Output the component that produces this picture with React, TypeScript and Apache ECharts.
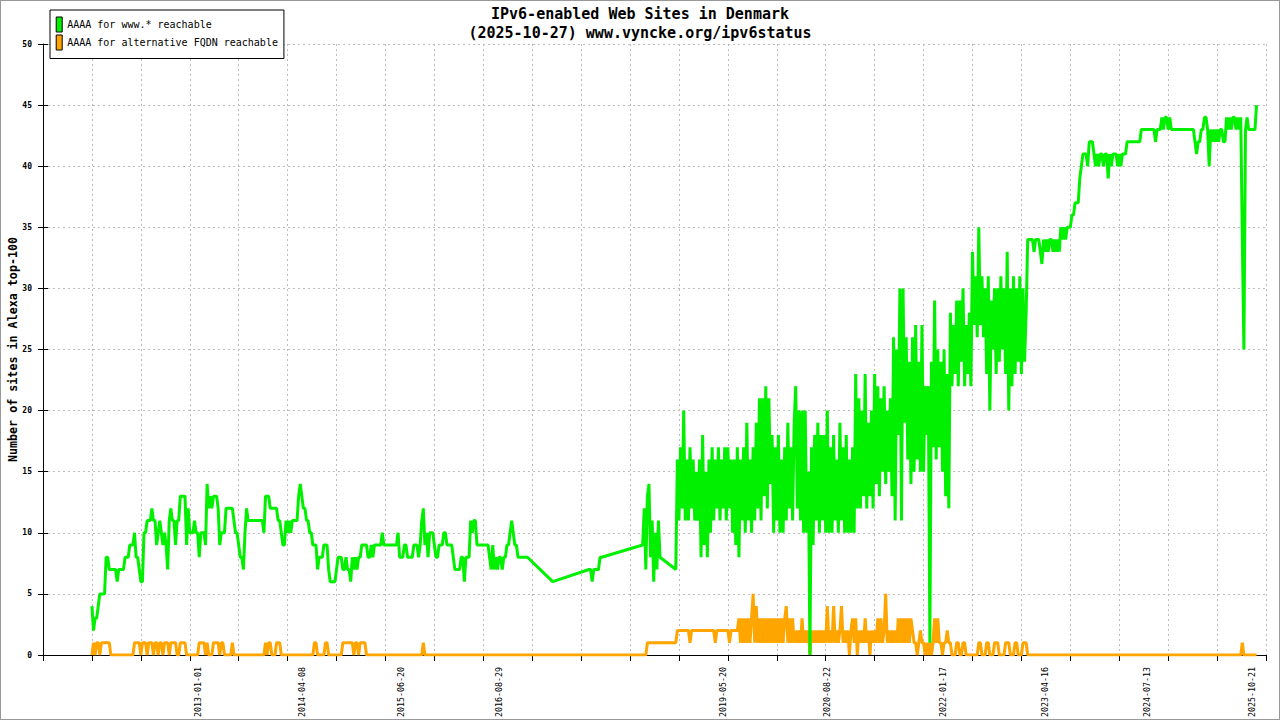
import { useEffect, useRef } from 'react';
import * as echarts from 'echarts';

// weekly samples, first one on dataStart; null = no measurement that week
const dataStart = '2011-09-18';
const stepDays = 7;

const seriesNames = ['AAAA for www.* reachable', 'AAAA for alternative FQDN reachable'];

const xLabelDates = [
  '2013-01-01', '2014-04-08', '2015-06-20', '2016-08-29', '2019-05-20',
  '2020-08-22', '2022-01-17', '2023-04-16', '2024-07-13', '2025-10-21',
];

const wwwReachable: (number | null)[] = [
  4, 2, 3, 3, 4, 5, 5, 5, 5, 8,
  8, 7, 7, 7, 7, 7, 6, 7, 7, 7,
  7, 8, 8, 8, 9, 9, 9, 10, 8, 8,
  7, 6, 6, 10, 10, 11, 11, 11, 12, 11,
  11, 9, 10, 11, 10, 9, 10, 9, 7, 11,
  12, 11, 11, 9, 11, 11, 13, 13, 13, 13,
  9, 12, 10, 10, 10, 11, 10, 10, 8, 10,
  10, 10, 9, 14, 12, 13, 12, 13, 13, 13,
  12, 9, 10, 10, 10, 12, 12, 12, 12, 12,
  11, 10, 10, 9, 8, 8, 7, 10, 12, 11,
  11, 11, 11, 11, 11, 11, 11, 11, 11, 10,
  13, 13, 13, 12, 12, 12, 12, 12, 11, 11,
  10, 9, 9, 11, 10, 11, 10, 11, 11, 11,
  11, 13, 14, 13, 12, 12, 11, 11, 10, 10,
  9, 9, 9, 7, 8, 8, 8, 9, 9, 9,
  7, 6, 6, 6, 6, 7, 8, 8, 8, 7,
  7, 8, 7, 7, 6, 8, 7, 8, 7, 8,
  8, 9, 9, 9, 9, 8, 8, 9, 8, 9,
  9, 9, 9, 9, 10, 9, 9, 9, 9, 9,
  9, 9, 9, 9, 10, 8, 8, 8, 9, 9,
  8, 8, 8, 8, 9, 9, 9, 8, 9, 11,
  12, 9, 10, 8, 10, 10, 10, 9, 8, 8,
  9, 9, 9, 10, 10, 9, 9, 9, 9, 8,
  7, 7, 7, 7, 8, 8, 6, 8, 8, 8,
  11, 10, 11, 11, 9, 9, 9, 9, 9, 9,
  9, 9, 8, 7, 9, 7, 8, 7, 8, 8,
  7, 8, 8, 9, 9, 10, 11, 10, 9, 9,
  8, 8, 8, 8, 8, 8, 8, null, null, null,
  null, null, null, null, null, null, null, null, null, null,
  null, null, 6, null, null, null, null, null, null, null,
  null, null, null, null, null, null, null, null, null, null,
  null, null, null, null, null, 7, 7, 6, 7, 7,
  7, 7, 8, 8, null, null, null, null, null, null,
  null, null, null, null, null, null, null, null, null, null,
  null, null, null, null, null, null, null, null, null, 9,
  12, 7, 13, 14, 8, 11, 6, 10, 7, 11,
  8, null, null, null, null, null, null, null, null, null,
  7, 16, 11, 17, 12, 20, 11, 16, 11, 17,
  12, 16, 11, 15, 11, 16, 8, 18, 9, 15,
  8, 16, 10, 17, 11, 16, 12, 17, 11, 16,
  12, 17, 11, 17, 12, 16, 10, 16, 9, 17,
  8, 16, 11, 17, 10, 19, 11, 16, 10, 17,
  11, 19, 12, 21, 11, 21, 13, 22, 12, 21,
  14, 18, 10, 17, 11, 18, 10, 16, 10, 17,
  11, 19, 12, 17, 11, 19, 22, 12, 20, 11,
  20, 10, 20, 10, 15, 0, 17, 9, 18, 11,
  19, 10, 18, 11, 18, 10, 20, 10, 17, 10,
  18, 11, 16, 10, 19, 11, 17, 10, 18, 10,
  16, 10, 17, 10, 23, 12, 21, 12, 20, 13,
  23, 12, 19, 13, 20, 12, 23, 14, 22, 13,
  21, 15, 22, 14, 20, 15, 21, 13, 26, 11,
  25, 18, 30, 11, 30, 19, 26, 16, 24, 14,
  26, 15, 27, 16, 24, 15, 27, 15, 22, 18,
  22, 1, 24, 17, 29, 16, 25, 17, 24, 15,
  25, 13, 23, 12, 28, 22, 27, 23, 29, 22,
  29, 24, 30, 22, 27, 23, 28, 22, 33, 27,
  31, 26, 35, 27, 31, 26, 30, 23, 31, 20,
  29, 25, 30, 23, 30, 24, 31, 25, 30, 23,
  33, 20, 30, 22, 31, 23, 30, 24, 31, 23,
  30, 24, 28, 34, 34, 34, 34, 33, 34, 34,
  34, 33, 32, 34, 33, 34, 33, 34, 34, 33,
  34, 33, 34, 33, 35, 34, 35, 34, 35, 35,
  35, 36, 36, 37, 37, 37, 39, 40, 41, 41,
  41, 40, 42, 42, 42, 41, 40, 41, 40, 41,
  41, 40, 41, 41, 39, 41, 40, 41, 41, 41,
  40, 41, 40, 41, 41, 41, 42, 42, 42, 42,
  42, 42, 42, 42, 42, 43, 43, 43, 43, 43,
  43, 43, 43, 43, 42, 43, 43, 43, 44, 43,
  44, 44, 43, 44, 43, 43, 43, 43, 43, 43,
  43, 43, 43, 43, 43, 43, 43, 43, 43, 42,
  41, 42, 42, 43, 43, 44, 44, 43, 40, 43,
  42, 43, 42, 43, 42, 43, 43, 42, 42, 44,
  43, 44, 43, 44, 44, 43, 44, 43, 44, 34,
  25, 43, 44, 43, 43, 43, 43, 43, 45,
];

const altReachable: (number | null)[] = [
  0, 1, 0, 1, 1, 0, 1, 1, 1, 1,
  1, 1, 0, 0, 0, 0, 0, 0, 0, 0,
  0, 0, 0, 0, 0, 0, 0, 1, 1, 1,
  1, 0, 1, 1, 1, 0, 1, 1, 1, 0,
  1, 1, 0, 1, 1, 0, 1, 1, 1, 0,
  1, 1, 1, 1, 0, 0, 1, 1, 1, 1,
  0, 0, 0, 0, 0, 0, 0, 0, 1, 1,
  1, 1, 0, 1, 0, 0, 0, 1, 1, 1,
  1, 0, 1, 1, 0, 0, 0, 0, 0, 1,
  0, 0, 0, 0, 0, 0, 0, 0, 0, 0,
  0, 0, 0, 0, 0, 0, 0, 0, 0, 0,
  1, 0, 1, 1, 0, 0, 0, 1, 1, 1,
  0, 0, 0, 0, 0, 0, 0, 0, 0, 0,
  0, 0, 0, 0, 0, 0, 0, 0, 0, 0,
  0, 1, 1, 0, 0, 0, 0, 0, 1, 1,
  0, 0, 0, 0, 0, 0, 0, 0, 0, 1,
  1, 1, 1, 1, 1, 1, 0, 1, 1, 0,
  1, 1, 1, 1, 0, 0, 0, 0, 0, 0,
  0, 0, 0, 0, 0, 0, 0, 0, 0, 0,
  0, 0, 0, 0, 0, 0, 0, 0, 0, 0,
  0, 0, 0, 0, 0, 0, 0, 0, 0, 0,
  1, 0, 0, 0, 0, 0, 0, 0, 0, 0,
  0, 0, 0, 0, 0, 0, 0, 0, 0, 0,
  0, 0, 0, 0, 0, 0, 0, 0, 0, 0,
  0, 0, 0, 0, 0, 0, 0, 0, 0, 0,
  0, 0, 0, 0, 0, 0, 0, 0, 0, 0,
  0, 0, 0, 0, 0, 0, 0, 0, 0, 0,
  0, 0, 0, 0, 0, 0, 0, null, null, null,
  null, null, null, null, null, null, null, null, null, null,
  null, null, 0, null, null, null, null, null, null, null,
  null, null, null, null, null, null, null, null, null, null,
  null, null, null, null, null, 0, 0, 0, 0, 0,
  0, 0, 0, 0, null, null, null, null, null, null,
  null, null, null, null, null, null, null, null, null, null,
  null, null, null, null, null, null, null, null, null, 0,
  0, 0, 1, 1, 1, 1, 1, 1, 1, 1,
  1, null, null, null, null, null, null, null, null, null,
  1, 2, 2, 2, 2, 2, 2, 2, 2, 1,
  2, 2, 2, 2, 2, 2, 2, 2, 2, 2,
  2, 2, 2, 2, 2, 1, 2, 2, 2, 2,
  2, 2, 2, 2, 1, 2, 2, 2, 2, 2,
  3, 1, 3, 1, 3, 1, 3, 1, 3, 5,
  1, 4, 1, 3, 1, 3, 1, 3, 1, 3,
  1, 3, 1, 3, 1, 3, 1, 3, 1, 3,
  4, 1, 3, 1, 3, 1, 2, 1, 2, 1,
  3, 1, 2, 1, 2, 0, 2, 1, 2, 1,
  2, 1, 2, 1, 2, 1, 4, 1, 2, 1,
  4, 1, 2, 1, 2, 4, 1, 2, 1, 2,
  0, 2, 3, 1, 3, 0, 2, 1, 2, 1,
  3, 1, 2, 0, 2, 1, 2, 1, 3, 1,
  3, 1, 2, 5, 1, 2, 1, 2, 1, 2,
  1, 3, 1, 3, 1, 3, 1, 3, 1, 3,
  2, 1, 1, 0, 1, 2, 1, 1, 0, 1,
  0, 1, 0, 1, 3, 1, 3, 1, 1, 0,
  1, 1, 2, 1, 1, 0, 0, 0, 1, 1,
  0, 0, 1, 1, 0, 0, 0, 0, 0, 0,
  0, 0, 1, 1, 0, 0, 0, 1, 1, 0,
  0, 0, 1, 1, 1, 0, 0, 0, 0, 1,
  1, 1, 0, 0, 0, 1, 1, 0, 0, 0,
  1, 1, 1, 0, 0, 0, 0, 0, 0, 0,
  0, 0, 0, 0, 0, 0, 0, 0, 0, 0,
  0, 0, 0, 0, 0, 0, 0, 0, 0, 0,
  0, 0, 0, 0, 0, 0, 0, 0, 0, 0,
  0, 0, 0, 0, 0, 0, 0, 0, 0, 0,
  0, 0, 0, 0, 0, 0, 0, 0, 0, 0,
  0, 0, 0, 0, 0, 0, 0, 0, 0, 0,
  0, 0, 0, 0, 0, 0, 0, 0, 0, 0,
  0, 0, 0, 0, 0, 0, 0, 0, 0, 0,
  0, 0, 0, 0, 0, 0, 0, 0, 0, 0,
  0, 0, 0, 0, 0, 0, 0, 0, 0, 0,
  0, 0, 0, 0, 0, 0, 0, 0, 0, 0,
  0, 0, 0, 0, 0, 0, 0, 0, 0, 0,
  0, 0, 0, 0, 0, 0, 0, 0, 0, 1,
  0, 0, 0, 0, 0, 0, 0, 0, 0,
];

const MONO = "'DejaVu Sans Mono', monospace";
const GREEN = '#00f000';
const ORANGE = '#ffa500';
const DAY = 86400000;
// the x axis starts one tick before the first sample; 25 ticks wide
const TICK_DAYS = 217;
const TICK_COUNT = 25;
const axisStart = Date.parse(dataStart) - TICK_DAYS * DAY;

const toAxisDays = (iso: string) => Math.round((Date.parse(iso) - axisStart) / DAY);

function toPoints(values: (number | null)[]) {
  const pts: [number, number][] = [];
  values.forEach((v, i) => {
    if (v !== null) pts.push([TICK_DAYS + i * stepDays, v]);
  });
  return pts;
}

export default function App() {
  const divRef = useRef<HTMLDivElement>(null);

  useEffect(() => {
    if (!divRef.current) return;
    const chart = echarts.init(divRef.current, null, { renderer: 'svg' });

    const gridLine = { show: true, lineStyle: { color: '#bdbdbd', type: [2, 3] as number[], width: 1 } };

    chart.setOption({
      animation: false,
      backgroundColor: '#fff',
      textStyle: { fontFamily: MONO },
      title: {
        text: 'IPv6-enabled Web Sites in Denmark\n(2025-10-27) www.vyncke.org/ipv6status',
        left: 'center',
        top: 5,
        padding: 0,
        textStyle: { fontFamily: MONO, fontSize: 15, fontWeight: 'bold', lineHeight: 18.5, color: '#000' },
      },
      legend: {
        orient: 'vertical',
        left: 50,
        top: 10,
        padding: [6.5, 6, 8, 5.7],
        itemGap: 2,
        itemWidth: 6,
        itemHeight: 15,
        icon: 'rect',
        data: seriesNames,
        selectedMode: false,
        backgroundColor: '#fff',
        borderColor: '#000',
        borderWidth: 1,
        borderRadius: 0,
        itemStyle: { borderColor: '#000', borderWidth: 1 },
        textStyle: { fontFamily: MONO, fontSize: 10, color: '#000' },
      },
      grid: { left: 43, right: 14, top: 44, bottom: 65, containLabel: false, outerBoundsMode: 'none' },
      xAxis: {
        type: 'value',
        min: 0,
        max: TICK_DAYS * TICK_COUNT,
        interval: TICK_DAYS,
        axisLine: { lineStyle: { color: '#000', width: 1 } },
        axisTick: { length: 6, lineStyle: { color: '#000' } },
        splitLine: gridLine,
        axisLabel: {
          customValues: xLabelDates.map(toAxisDays),
          rotate: 90,
          margin: 12,
          fontFamily: MONO,
          fontSize: 8.3,
          color: '#000',
          formatter: (v: number) => new Date(axisStart + Math.round(v) * DAY).toISOString().slice(0, 10),
        },
      },
      yAxis: [
        {
          type: 'value',
          min: 0,
          max: 50,
          interval: 5,
          name: 'Number of sites in Alexa top-100',
          nameLocation: 'middle',
          nameGap: 24,
          nameRotate: 90,
          nameMoveOverlap: false,
          nameTextStyle: { fontFamily: MONO, fontSize: 11.7, fontWeight: 'bold', color: '#000' },
          axisLine: { show: true, lineStyle: { color: '#000', width: 1 } },
          axisTick: { show: true, length: 5, lineStyle: { color: '#000' } },
          axisLabel: { margin: 11, fontFamily: MONO, fontSize: 8, fontWeight: 'bold', color: '#000' },
          splitLine: gridLine,
        },
        {
          // inner half of the y ticks
          type: 'value',
          min: 0,
          max: 50,
          interval: 5,
          position: 'left',
          axisLine: { show: false },
          axisTick: { show: true, inside: true, length: 5, lineStyle: { color: '#000' } },
          axisLabel: { show: false },
          splitLine: { show: false },
        },
      ],
      series: [
        {
          name: seriesNames[1],
          type: 'line',
          data: toPoints(altReachable),
          showSymbol: false,
          symbol: 'none',
          connectNulls: true,
          silent: true,
          lineStyle: { color: ORANGE, width: 3 },
          itemStyle: { color: ORANGE },
          z: 2,
        },
        {
          name: seriesNames[0],
          type: 'line',
          data: toPoints(wwwReachable),
          showSymbol: false,
          symbol: 'none',
          connectNulls: true,
          silent: true,
          lineStyle: { color: GREEN, width: 3 },
          itemStyle: { color: GREEN },
          z: 3,
        },
      ],
    });

    return () => chart.dispose();
  }, []);

  return (
    <div style={{ position: 'fixed', left: 0, top: 0, width: 1280, height: 720, background: '#fff' }}>
      <div ref={divRef} style={{ width: 1280, height: 720 }} />
      <div
        style={{
          position: 'absolute', left: 0, top: 0, width: 1280, height: 720,
          boxSizing: 'border-box', border: '1px solid #999', pointerEvents: 'none',
        }}
      />
    </div>
  );
}
